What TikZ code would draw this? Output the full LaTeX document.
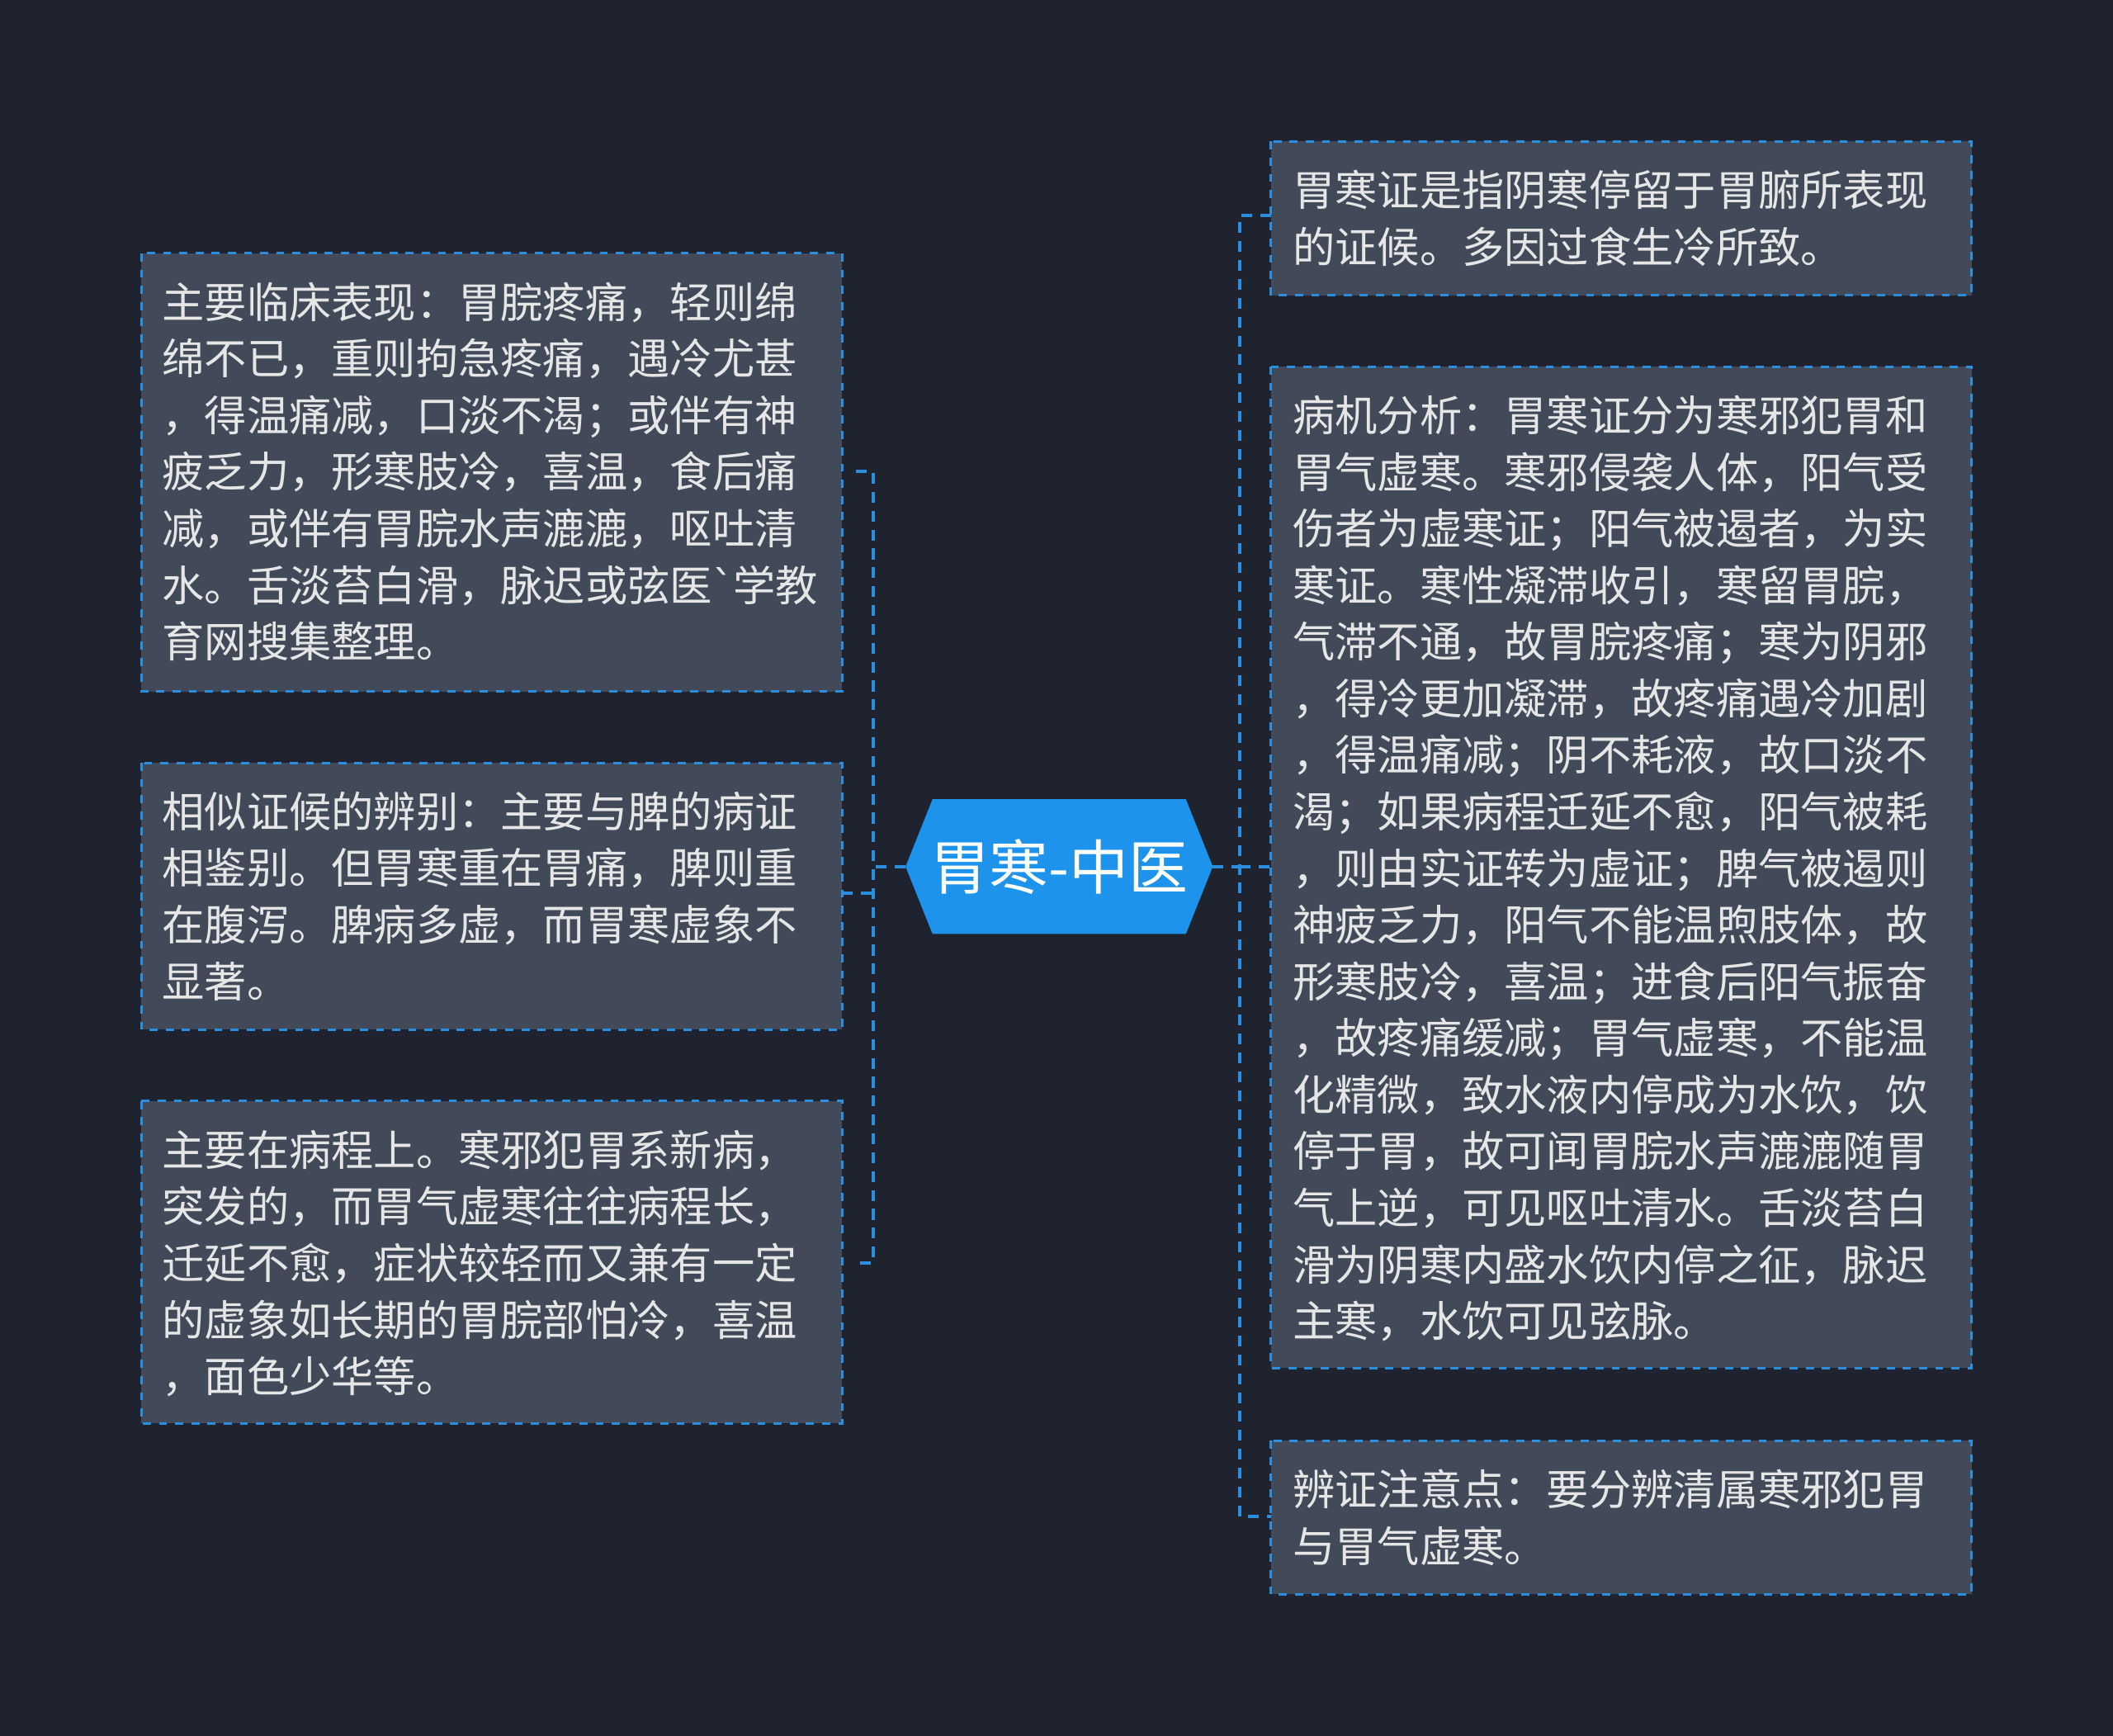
\documentclass[tikz,border=0pt]{standalone}
\usepackage{fontspec}
\setmainfont{Noto Sans CJK SC}
\newfontfamily\btfont{DejaVu Sans}
\begin{document}
\begin{tikzpicture}[x=0.5pt,y=-0.5pt,
  box/.style={draw=boxline,fill=boxfill,dashed,line width=0.9pt},
  txt/.style={anchor=north west,inner sep=0pt,align=left,text=txtc,font=\fontsize{15.7pt}{21pt}\selectfont},
  conn/.style={draw=boxline,dash pattern=on 4pt off 3pt,line width=1.2pt}]
\definecolor{bg}{HTML}{1F2330}
\definecolor{boxfill}{HTML}{424A5A}
\definecolor{boxline}{HTML}{2B8FE0}
\definecolor{txtc}{HTML}{E6E6E6}
\definecolor{hub}{HTML}{1D93EC}
\fill[bg] (0,0) rectangle (1568,1288);
\useasboundingbox (0,0) rectangle (1568,1288);
% center
\fill[hub] (672,643)--(692,593)--(880,593)--(900,643)--(880,693)--(692,693)--cycle;
\node[text=white,font=\fontsize{22pt}{26pt}\selectfont] (c) at (786,643) {胃寒-中医};
\coordinate (cl) at (672,643); \coordinate (cr) at (900,643);
% left boxes
\draw[box] (105,188) rectangle (625,513);
\node[txt] (l1) at (120,209) {主要临床表现：胃脘疼痛，轻则绵\\绵不已，重则拘急疼痛，遇冷尤甚\\，得温痛减，口淡不渴；或伴有神\\疲乏力，形寒肢冷，喜温，食后痛\\减，或伴有胃脘水声漉漉，呕吐清\\水。舌淡苔白滑，脉迟或弦医{\btfont\char"60}学教\\育网搜集整理。};
\draw[box] (105,566) rectangle (625,764);
\node[txt] (l2) at (120,587) {相似证候的辨别：主要与脾的病证\\相鉴别。但胃寒重在胃痛，脾则重\\在腹泻。脾病多虚，而胃寒虚象不\\显著。};
\draw[box] (105,817) rectangle (625,1056);
\node[txt] (l3) at (120,838) {主要在病程上。寒邪犯胃系新病，\\突发的，而胃气虚寒往往病程长，\\迁延不愈，症状较轻而又兼有一定\\的虚象如长期的胃脘部怕冷，喜温\\，面色少华等。};
% right boxes
\draw[box] (943,105) rectangle (1463,219);
\node[txt] (r1) at (959,126) {胃寒证是指阴寒停留于胃腑所表现\\的证候。多因过食生冷所致。};
\draw[box] (943,272) rectangle (1463,1015);
\node[txt] (r2) at (959,293) {病机分析：胃寒证分为寒邪犯胃和\\胃气虚寒。寒邪侵袭人体，阳气受\\伤者为虚寒证；阳气被遏者，为实\\寒证。寒性凝滞收引，寒留胃脘，\\气滞不通，故胃脘疼痛；寒为阴邪\\，得冷更加凝滞，故疼痛遇冷加剧\\，得温痛减；阴不耗液，故口淡不\\渴；如果病程迁延不愈，阳气被耗\\，则由实证转为虚证；脾气被遏则\\神疲乏力，阳气不能温煦肢体，故\\形寒肢冷，喜温；进食后阳气振奋\\，故疼痛缓减；胃气虚寒，不能温\\化精微，致水液内停成为水饮，饮\\停于胃，故可闻胃脘水声漉漉随胃\\气上逆，可见呕吐清水。舌淡苔白\\滑为阴寒内盛水饮内停之征，脉迟\\主寒，水饮可见弦脉。};
\draw[box] (943,1069) rectangle (1463,1183);
\node[txt] (r3) at (959,1090) {辨证注意点：要分辨清属寒邪犯胃\\与胃气虚寒。};
% connectors
\draw[conn] (cl) -- (648,643);
\draw[conn] (635,350) -- (648,350) -- (648,937) -- (635,937);
\draw[conn] (625,663) -- (648,663);
\draw[conn] (cr) -- (920,643);
\draw[conn] (943,160) -- (920,160) -- (920,1125) -- (943,1125);
\draw[conn] (920,643) -- (943,643);
\end{tikzpicture}
\end{document}
